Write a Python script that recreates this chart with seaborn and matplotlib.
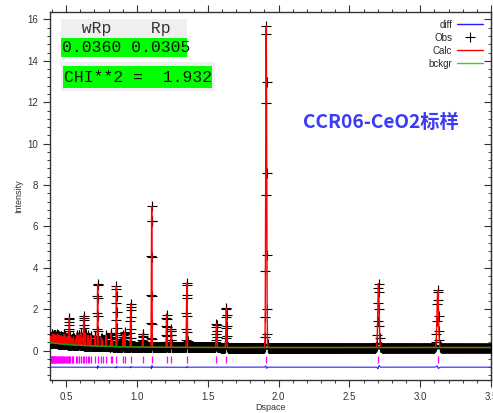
import numpy as np
import pandas as pd
import matplotlib
matplotlib.use("Agg")
import matplotlib.pyplot as plt
from matplotlib.patches import Rectangle
from matplotlib.lines import Line2D
from matplotlib.ticker import MultipleLocator
import seaborn as sns

# ---------------- data ----------------
lattice_a = 5.4113                     # CeO2 cubic cell (Angstrom)
hkl_sums = [3, 4, 8, 11, 12, 16, 19, 20, 24, 27, 32, 35, 36, 40, 43, 44, 48,
            51, 52, 56, 59, 64, 67, 68, 72, 75, 76, 80, 83, 84, 88, 91, 96,
            99, 100, 104, 107, 108, 112, 115, 116, 120, 123, 128, 131, 132,
            136, 139, 140, 144, 147, 148, 152, 155, 160, 163, 164, 168, 171,
            172, 176, 179, 180, 184, 187, 192]
peak_heights = [2.80, 3.10, 15.80, 1.95, 1.15, 3.15, 0.90, 1.55, 6.80, 0.65,
                2.10, 0.70, 0.60, 2.95, 0.30, 0.65, 0.55, 0.30, 0.40, 3.05,
                0.50, 0.50, 0.30, 0.50, 0.60, 1.45, 0.40, 0.60, 0.50, 0.40,
                0.50, 0.30, 0.40, 0.30, 0.30, 0.40, 1.30, 0.30, 0.40, 0.30,
                0.30, 0.40, 0.50, 0.35, 0.30, 0.30, 0.40, 0.30, 0.30, 0.40,
                0.35, 0.30, 0.45, 0.30, 0.35, 0.30, 0.30, 0.40, 0.30, 0.30,
                0.35, 0.30, 0.30, 0.30, 0.30, 0.30]
bkg_knots_d = [0.387, 0.45, 0.55, 0.70, 0.90, 1.20, 1.60, 3.50]
bkg_knots_v = [0.38, 0.33, 0.27, 0.22, 0.18, 0.16, 0.15, 0.15]
diff_peaks_d = [3.124, 2.706, 1.913, 1.353, 1.1046, 0.8556, 0.7231, 0.9566]
diff_amps = [-0.10, 0.12, -0.10, 0.05, 0.12, 0.06, 0.10, 0.05]
diff_offset = -0.80
tick_top, tick_bottom = -0.27, -0.62
width_frac = 0.0017                    # sigma / d of the peaks
step_frac = 0.0008                     # point spacing, delta d / d

wRp, Rp, chi2 = "0.0360", "0.0305", "1.932"
title_text = "CCR06-CeO2标样"
xlabel, ylabel = "Dspace", "Intensity"
x_range = (0.387, 3.50)
y_range = (-1.42, 16.36)

# ---------------- build the profile from the peak table ----------------
d_peaks = lattice_a / np.sqrt(np.array(hkl_sums, dtype=float))
n_pts = int(np.log(x_range[1] / x_range[0]) / step_frac) + 1
d = x_range[0] * np.exp(step_frac * np.arange(n_pts))
bkg = np.interp(d, bkg_knots_d, bkg_knots_v)
calc = bkg.copy()
for dp, h in zip(d_peaks, peak_heights):
    s = width_frac * dp
    calc += h * np.exp(-0.5 * ((d - dp) / s) ** 2)
diff = np.full_like(d, diff_offset)
for dp, a in zip(diff_peaks_d, diff_amps):
    s = width_frac * dp
    z = (d - dp) / s
    diff += a * z * np.exp(-0.5 * z ** 2)

df = pd.DataFrame({"d": d, "obs": calc, "calc": calc, "bkg": bkg, "diff": diff})

# ---------------- figure ----------------
sns.set_style("ticks")
plt.rcParams["font.family"] = ["Liberation Sans", "DejaVu Sans"]
W, H = 493, 413
fig = plt.figure(figsize=(W / 100, H / 100), dpi=100)
ax = fig.add_axes([50 / W, 1 - 380 / H, 441 / W, 368 / H])

ax.vlines(d_peaks[d_peaks > x_range[0]], tick_bottom, tick_top,
          color="#ff00ff", lw=0.9, zorder=2)
sns.lineplot(data=df, x="d", y="diff", ax=ax, color="#2020ff", lw=0.8,
             estimator=None, sort=False, zorder=3)
ax.plot(df["d"], df["obs"], ls="none", marker="+", ms=7, mew=0.8,
        color="black", zorder=3)
sns.lineplot(data=df, x="d", y="calc", ax=ax, color="#ff0000", lw=1.0,
             estimator=None, sort=False, zorder=4)
sns.lineplot(data=df, x="d", y="bkg", ax=ax, color="#00b000", lw=1.0,
             estimator=None, sort=False, zorder=5)

ax.set_xlim(*x_range)
ax.set_ylim(*y_range)
ax.set_xlabel(xlabel, fontsize=6.5, color="#333333", labelpad=1)
ax.set_ylabel(ylabel, fontsize=6.5, color="#333333", labelpad=3)
ax.xaxis.set_major_locator(MultipleLocator(0.5))
ax.xaxis.set_minor_locator(MultipleLocator(0.1))
ax.yaxis.set_major_locator(MultipleLocator(2))
ax.yaxis.set_minor_locator(MultipleLocator(0.4))
ax.tick_params(axis="both", which="both", direction="out", colors="#333333",
               labelsize=7, top=True, right=False)
ax.tick_params(which="major", length=5, width=0.8)
ax.tick_params(which="minor", length=2.5, width=0.7)
for sp in ax.spines.values():
    sp.set_visible(True)
    sp.set_color("#333333")
    sp.set_linewidth(1.0)

right = ax.secondary_yaxis("right")
right.yaxis.set_major_locator(MultipleLocator(2))
right.yaxis.set_minor_locator(MultipleLocator(0.4))
right.tick_params(which="both", direction="in", labelright=False, colors="#333333")
right.tick_params(which="major", length=5)
right.tick_params(which="minor", length=2.5)

handles = [Line2D([], [], color="#2020ff", lw=1.0),
           Line2D([], [], ls="none", marker="+", ms=7, mew=0.8, color="black"),
           Line2D([], [], color="#ff0000", lw=1.0),
           Line2D([], [], color="#30d030", lw=1.0)]
ax.legend(handles, ["diff", "Obs", "Calc", "bckgr"], loc="upper right",
          markerfirst=False, frameon=False, fontsize=7, handlelength=2.7,
          handletextpad=0.5, labelspacing=0.3, borderaxespad=0.4)

ax.text(303 / W, 1 - 122 / H, title_text, transform=fig.transFigure,
        ha="left", va="center", fontsize=13.8, fontweight="bold",
        color="#3a3af8", family=["Noto Sans CJK SC", "DejaVu Sans"])

# ---------------- R-factor boxes ----------------
def box(x0, y0, x1, y1, color):
    fig.add_artist(Rectangle((x0 / W, 1 - y1 / H), (x1 - x0) / W, (y1 - y0) / H,
                             transform=fig.transFigure, facecolor=color,
                             edgecolor="none", zorder=10))

mono = dict(family=["Liberation Mono", "DejaVu Sans Mono"], fontsize=11.8,
            transform=fig.transFigure, ha="left", va="center", zorder=11)
box(61, 19, 187, 38, "#efefef")
box(61, 38, 187, 57, "#00ff00")
box(61, 62, 215, 91, "#efefef")
box(63, 66, 212, 88, "#00ff00")
fig.text(62 / W, 1 - 28 / H, "  wRp    Rp", color="#333333", **mono)
fig.text(62 / W, 1 - 47.5 / H, f"{wRp} {Rp}", color="#111111", **mono)
fig.text(64 / W, 1 - 77 / H, f"CHI**2 =  {chi2}", color="#111111", **mono)

fig.savefig("out.png", dpi=100)
